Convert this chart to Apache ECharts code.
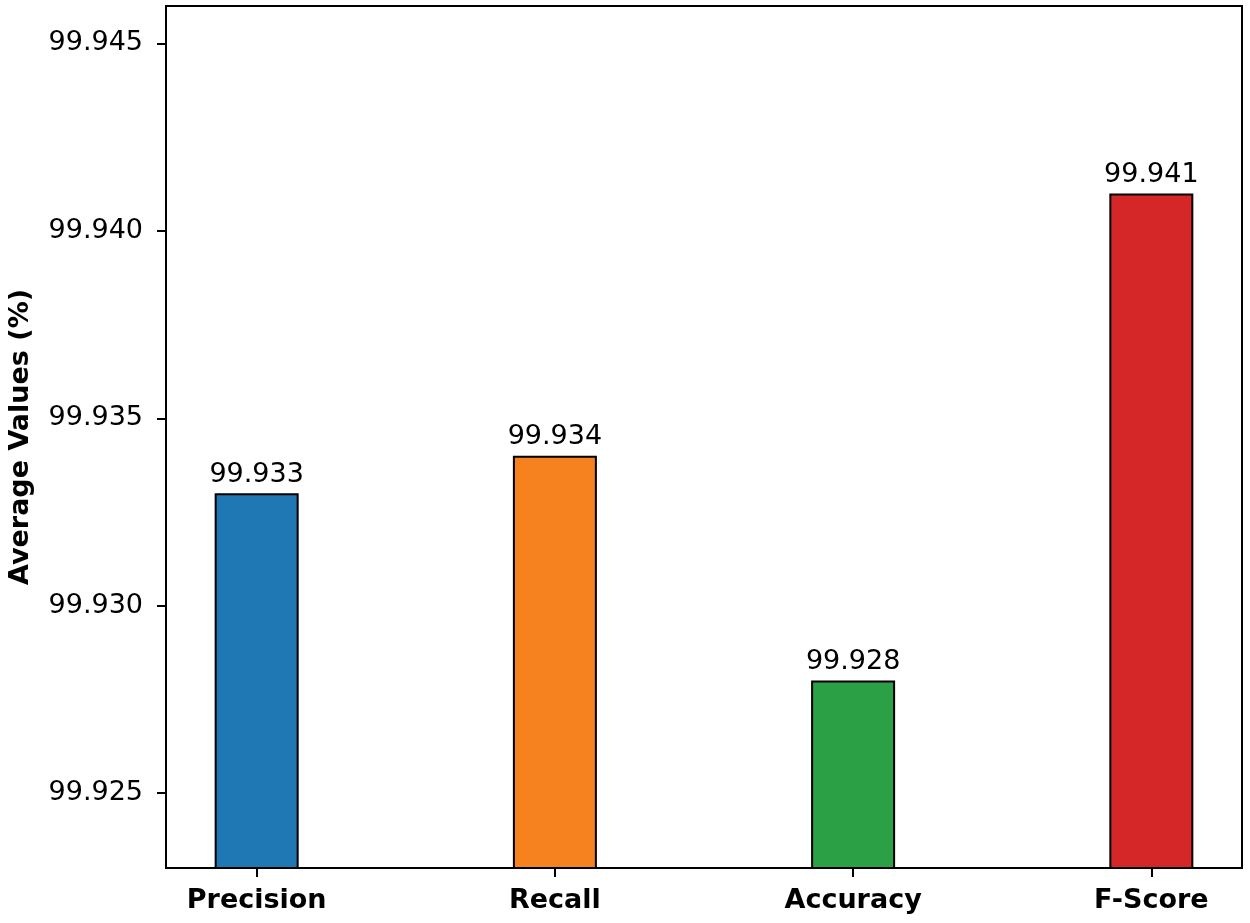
<!DOCTYPE html>
<html>
<head>
<meta charset="utf-8">
<script src="https://cdn.jsdelivr.net/npm/echarts@6/dist/echarts.min.js"></script>
<style>
  html, body { margin: 0; padding: 0; background: #fff; }
  #main { width: 1250px; height: 923px; }
</style>
</head>
<body>
<div id="main"></div>
<script>
var categories = ['Precision', 'Recall', 'Accuracy', 'F-Score'];
var values = [99.933, 99.934, 99.928, 99.941];
var barColors = ['#1f77b4', '#f5821f', '#2ca044', '#d62728'];
var yTicks = [99.925, 99.930, 99.935, 99.940, 99.945];
var xTicks = [0, 1, 2, 3];

var chart = echarts.init(document.getElementById('main'));
var font = 'DejaVu Sans';

var option = {
  animation: false,
  grid: {
    left: 166, right: 8, top: 6, bottom: 55,
    outerBoundsMode: 'none',
    containLabel: false,
    show: true, borderColor: '#000', borderWidth: 2, backgroundColor: 'transparent'
  },
  xAxis: {
    type: 'value',
    min: -0.304,
    max: 3.304,
    splitLine: { show: false },
    axisLine: { show: true, onZero: false, lineStyle: { color: '#000', width: 2 } },
    axisTick: { show: true, length: 9, customValues: xTicks, lineStyle: { color: '#000', width: 2 } },
    axisLabel: {
      customValues: xTicks,
      margin: 19,
      color: '#000',
      fontFamily: font,
      fontWeight: 'bold',
      fontSize: 27,
      formatter: function (v) { return categories[Math.round(v)]; }
    }
  },
  yAxis: {
    type: 'value',
    min: 99.923,
    max: 99.946,
    name: 'Average Values (%)',
    nameLocation: 'middle',
    nameGap: 132,
    nameTextStyle: { color: '#000', fontFamily: font, fontWeight: 'bold', fontSize: 27 },
    splitLine: { show: false },
    axisLine: { show: true, onZero: false, lineStyle: { color: '#000', width: 2 } },
    axisTick: { show: true, length: 9, customValues: yTicks, lineStyle: { color: '#000', width: 2 } },
    axisLabel: {
      customValues: yTicks,
      margin: 23,
      color: '#000',
      fontFamily: font,
      fontSize: 27,
      formatter: function (v) { return v.toFixed(3); }
    }
  },
  series: [{
    type: 'bar',
    barWidth: 84,
    data: values.map(function (v, i) {
      return { value: [xTicks[i], v], itemStyle: { color: barColors[i] } };
    }),
    itemStyle: { borderColor: '#000', borderWidth: 2 },
    label: {
      show: true,
      position: 'top',
      distance: 5,
      color: '#000',
      fontFamily: font,
      fontSize: 27,
      formatter: function (p) { return p.value[1].toFixed(3); }
    }
  }]
};

chart.setOption(option);
</script>
</body>
</html>
